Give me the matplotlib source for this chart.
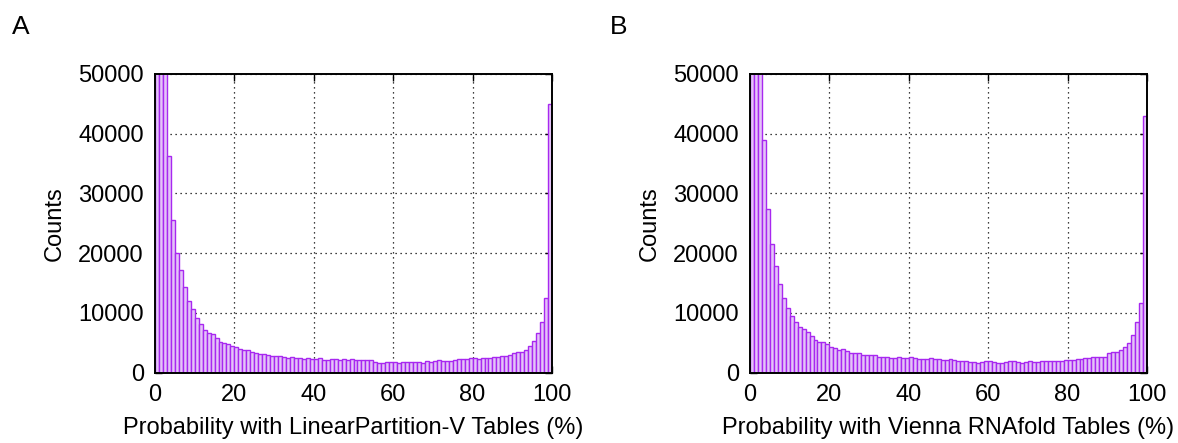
import matplotlib
matplotlib.use("Agg")
import matplotlib.pyplot as plt
import numpy as np

plt.rcParams['font.family'] = ['Liberation Sans', 'DejaVu Sans']

# bin left edges (percent), 1% bins
bin_edges = list(range(0, 101))

counts_A = [90000, 70000, 55000, 36200, 25600, 20100, 17100, 14300, 11900, 10700,
            9200, 8050, 7200, 6650, 6500, 5800, 5100, 5000, 4750, 4500,
            4250, 3900, 3750, 3750, 3400, 3200, 3100, 3100, 2850, 2750,
            2750, 2800, 2600, 2500, 2600, 2450, 2350, 2300, 2350, 2250,
            2300, 2350, 2100, 2100, 2250, 2200, 2150, 2200, 2150, 2200,
            2050, 2050, 2050, 2050, 2050, 1700, 1650, 1650, 1800, 1750,
            1700, 1600, 1700, 1700, 1700, 1750, 1700, 1650, 1850, 1750,
            1850, 2050, 1850, 1950, 2000, 2150, 2200, 2200, 2300, 2400,
            2400, 2300, 2350, 2400, 2500, 2600, 2600, 2700, 2750, 2900,
            3250, 3400, 3450, 3800, 4400, 5250, 6600, 8500, 12400, 45000]

counts_B = [95000, 75000, 56000, 38900, 27400, 21600, 17900, 14800, 12500, 10850,
            9500, 8400, 7650, 7300, 6800, 6100, 5400, 5100, 5100, 4750,
            4300, 4100, 3850, 3900, 3600, 3300, 3300, 3200, 2950, 2850,
            2850, 2850, 2600, 2600, 2600, 2500, 2450, 2550, 2350, 2450,
            2550, 2350, 2200, 2300, 2300, 2450, 2300, 2200, 2050, 2100,
            2200, 2050, 2000, 2000, 2000, 1700, 1700, 1600, 1750, 1900,
            1950, 1700, 1650, 1650, 1800, 1900, 1900, 1750, 1650, 1800,
            1900, 1750, 1800, 2000, 1950, 1950, 1900, 1950, 1950, 2050,
            2100, 2150, 2200, 2250, 2350, 2500, 2550, 2550, 2600, 2600,
            3250, 3400, 3450, 3800, 4350, 5000, 6200, 8400, 11700, 43000]

xticks = [0, 20, 40, 60, 80, 100]
yticks = [0, 10000, 20000, 30000, 40000, 50000]
xlabels = ["Probability with LinearPartition-V Tables (%)",
           "Probability with Vienna RNAfold Tables (%)"]
panel_letters = ["A", "B"]

fill_color = '#e4c4f8'
edge_color = '#a828f0'

fig = plt.figure(figsize=(11.78, 4.43), dpi=100)
axA = fig.add_axes([155/1178, (443-372.5)/443, 397/1178, 298.5/443])
axB = fig.add_axes([750/1178, (443-372.5)/443, 397/1178, 298.5/443])

for ax, counts, xl, letter in zip([axA, axB], [counts_A, counts_B], xlabels, panel_letters):
    ax.set_axisbelow(True)
    ax.grid(True, linestyle=(0, (1, 3)), color='black', linewidth=0.9)
    ax.hist(bin_edges[:-1], bins=bin_edges, weights=counts,
            facecolor=fill_color, edgecolor=edge_color, linewidth=1.0)
    ax.set_xlim(0, 100)
    ax.set_ylim(0, 50000)
    ax.set_xticks(xticks)
    ax.set_yticks(yticks)
    ax.tick_params(direction='in', top=True, right=True, length=5, width=1,
                   labelsize=17, pad=8)
    for s in ax.spines.values():
        s.set_linewidth(1.4)
    ax.set_xlabel(xl, fontsize=17, labelpad=8)
    ax.set_ylabel("Counts", fontsize=17, labelpad=9)

fig.text(12/1178, 1 - 27/443, "A", fontsize=19, va='center', ha='left')
fig.text(610/1178, 1 - 27/443, "B", fontsize=19, va='center', ha='left')

fig.savefig("out.png", dpi=100)
